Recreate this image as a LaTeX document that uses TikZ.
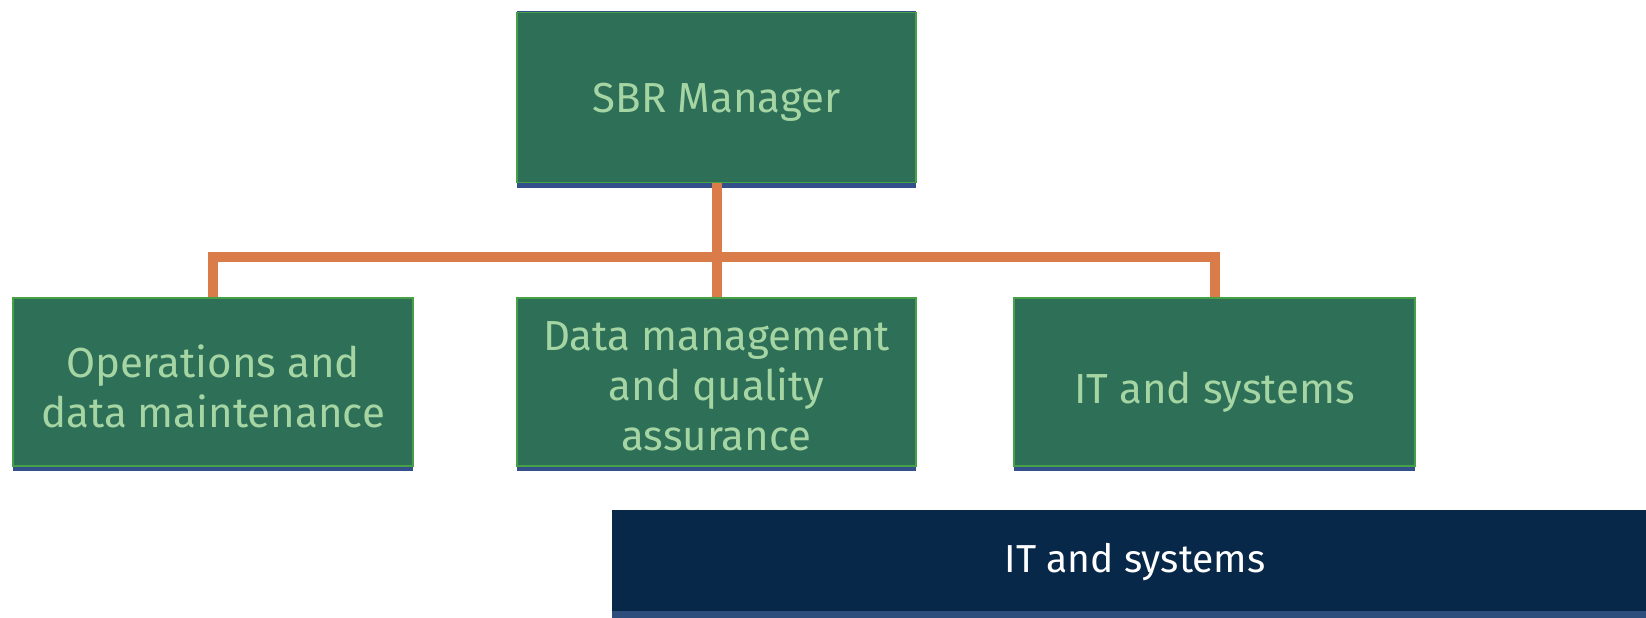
\documentclass[tikz,border=0pt]{standalone}
\usepackage{fontspec}
\setmainfont{Fira Sans}
\definecolor{boxfill}{HTML}{2E6F58}
\definecolor{boxtext}{HTML}{A6D5A4}
\definecolor{boxedge}{HTML}{46A046}
\definecolor{blueline}{HTML}{34508A}
\definecolor{linkcol}{HTML}{D97C4A}
\definecolor{navy}{HTML}{08284A}
\definecolor{navyband}{HTML}{2D4D7C}
\tikzset{
  gbox/.style={draw=boxedge, line width=1.4pt, fill=boxfill, inner sep=0pt,
    minimum height=168pt,
    preaction={fill=blueline, transform canvas={yshift=-5pt}}},
  gtext/.style={text=boxtext, font=\fontsize{42}{50}\selectfont, align=center, inner sep=0pt},
  link/.style={draw=linkcol, line width=10pt, line join=miter},
  bartext/.style={text=white, font=\fontsize{39}{44}\selectfont, inner sep=0pt}
}
\begin{document}
\begin{tikzpicture}[x=1pt,y=-1pt]
\useasboundingbox (0,0) rectangle (1646,618);
% bottom bar
\fill[navyband] (612,510) rectangle (1646,618);
\fill[navy] (612,510) rectangle (1646,611);
\node[bartext, anchor=base] (bar) at (1135,572) {IT and systems};
% boxes
\draw[blueline, line width=1.5pt] (517,11.5) -- (916,11.5);
\node[gbox, minimum width=399pt, minimum height=170pt,
  preaction={fill=blueline, transform canvas={yshift=-2pt}}] (top) at (716.5,97.5) {};
\node[gbox, minimum width=400pt] (ops) at (213,382) {};
\node[gbox, minimum width=399pt] (dm) at (716.5,382) {};
\node[gbox, minimum width=401pt] (it) at (1214.5,382) {};
\node[gtext, yshift=-5pt] (toptext) at (top.center) {SBR Manager};
\node[gtext, yshift=-4pt] (opstext) at (ops.center) {Operations and\\data maintenance};
\node[gtext, yshift=-4pt] (dmtext) at (dm.center) {Data management\\and quality\\assurance};
\node[gtext, yshift=-10pt] (ittext) at (it.center) {IT and systems};
% connectors
\coordinate (hl) at (ops.north |- 0,257);
\coordinate (hr) at (it.north |- 0,257);
\draw[link] (ops.north) -- (hl) -- (hr) -- (it.north);
\draw[link] (top.south) -- (dm.north);
\end{tikzpicture}
\end{document}
